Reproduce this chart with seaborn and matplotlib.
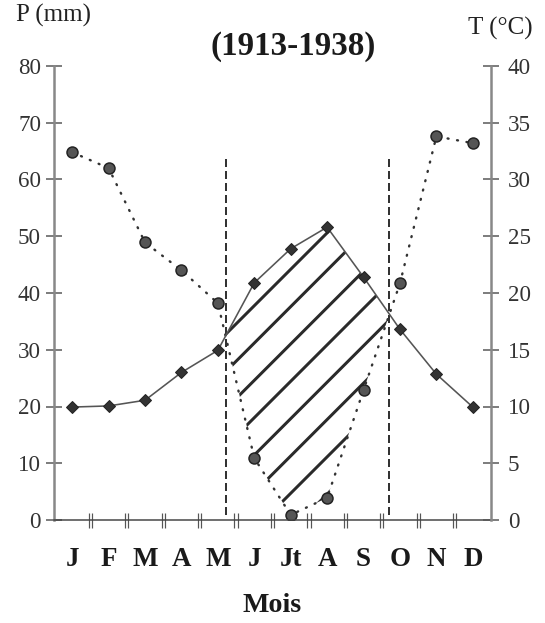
import numpy as np
import pandas as pd
import seaborn as sns
import matplotlib.pyplot as plt

# monthly values (1913-1938)
months = ['J', 'F', 'M', 'A', 'M', 'J', 'Jt', 'A', 'S', 'O', 'N', 'D']
precip_mm = [64.8, 62.0, 48.9, 44.0, 38.2, 10.9, 0.9, 3.9, 22.9, 41.7, 67.6, 66.4]
temp_c = [9.95, 10.05, 10.55, 13.0, 14.95, 20.9, 23.9, 25.8, 21.4, 16.8, 12.85, 9.95]
p_ticks = [0, 10, 20, 30, 40, 50, 60, 70, 80]
t_ticks = [0, 5, 10, 15, 20, 25, 30, 35, 40]

# hatch spacing follows the dpi, 112 gives about the scan's spacing
DPI = 112


def pt(px):
    # pixel size -> points at this dpi
    return px * 72 / DPI


sns.set_style('white')
plt.rcParams['font.family'] = ['Liberation Serif', 'DejaVu Serif']
plt.rcParams['hatch.linewidth'] = pt(3)

df = pd.DataFrame({'pos': np.arange(len(months)) + 0.5,
                   'P': precip_mm,
                   'T2': np.array(temp_c) * 2})  # P = 2T scale

# dry period limits: where the two curves cross
diff = df['P'].values - df['T2'].values
crossings = []
for i in range(len(diff) - 1):
    if diff[i] * diff[i + 1] < 0:
        crossings.append(df['pos'][i] + diff[i] / (diff[i] - diff[i + 1]))

fig = plt.figure(figsize=(545 / DPI, 623 / DPI), dpi=DPI)
ax = fig.add_axes([54 / 545, 103 / 623, 437 / 545, 454 / 623])
ax2 = ax.twinx()

# hatched dry season
ax.fill_between(df['pos'], df['P'], df['T2'], where=df['P'] < df['T2'],
                interpolate=True, facecolor='none', edgecolor='#2a2a2a',
                hatch='/', linewidth=0)

for c in crossings:
    ax.axvline(c, ymin=0.01, ymax=0.797, color='#333333', linewidth=pt(2),
               linestyle=(0, (4, 2)))

sns.lineplot(data=df, x='pos', y='P', ax=ax, color='#333333',
             linewidth=pt(2.4), linestyle=(0, (0.4, 3.6)), dash_capstyle='round',
             marker='o', markersize=pt(11), markerfacecolor='#555555',
             markeredgecolor='#222222', markeredgewidth=pt(1.5))
sns.lineplot(data=df, x='pos', y='T2', ax=ax, color='#555555',
             linewidth=pt(1.6), marker='D', markersize=pt(9),
             markerfacecolor='#333333', markeredgecolor='#222222',
             markeredgewidth=pt(1))

ax.set_xlim(0, 12)
ax.set_ylim(0, 80)
ax2.set_ylim(0, 40)
ax.set_yticks(p_ticks)
ax2.set_yticks(t_ticks)
ax.set_xticks(df['pos'], months)
bounds = np.arange(1, 12)
ax.set_xticks(np.concatenate([bounds - 0.045, bounds + 0.045]), minor=True)
ax.set_xlabel('')
ax.set_ylabel('')
ax2.set_ylabel('')

ax.tick_params(axis='x', which='major', bottom=True, length=0, pad=pt(27),
               labelsize=pt(27), labelcolor='#1a1a1a')
for lab in ax.get_xticklabels():
    lab.set_fontweight('bold')
ax.tick_params(axis='x', which='minor', bottom=True, direction='inout',
               length=pt(15), width=pt(1.2), color='#555555')
ax.tick_params(axis='y', left=True, direction='inout', length=pt(16),
               width=pt(1.5), color='#555555', pad=pt(5), labelsize=pt(23),
               labelcolor='#333333')
ax2.tick_params(axis='y', right=True, direction='inout', length=pt(16),
                width=pt(1.5), color='#555555', pad=pt(9), labelsize=pt(23),
                labelcolor='#333333')

for s in ['top', 'right']:
    ax.spines[s].set_visible(False)
for s in ['top', 'left', 'bottom']:
    ax2.spines[s].set_visible(False)
ax.spines['left'].set_color('#888888')
ax.spines['left'].set_linewidth(pt(2.5))
ax2.spines['right'].set_color('#888888')
ax2.spines['right'].set_linewidth(pt(2.5))
ax.spines['bottom'].set_color('#444444')
ax.spines['bottom'].set_linewidth(pt(1.5))

fig.text(293 / 545, 1 - 47 / 623, '(1913-1938)', ha='center', va='center',
         fontsize=pt(33), fontweight='bold', color='#1a1a1a')
fig.text(54 / 545, 1 - 15 / 623, 'P (mm)', ha='center', va='center',
         fontsize=pt(25), color='#222222')
fig.text(500 / 545, 1 - 28 / 623, 'T (°C)', ha='center', va='center',
         fontsize=pt(25), color='#222222')
fig.text(272 / 545, 1 - 606 / 623, 'Mois', ha='center', va='center',
         fontsize=pt(28), fontweight='bold', color='#1a1a1a')

fig.savefig('out.png', dpi=DPI)
